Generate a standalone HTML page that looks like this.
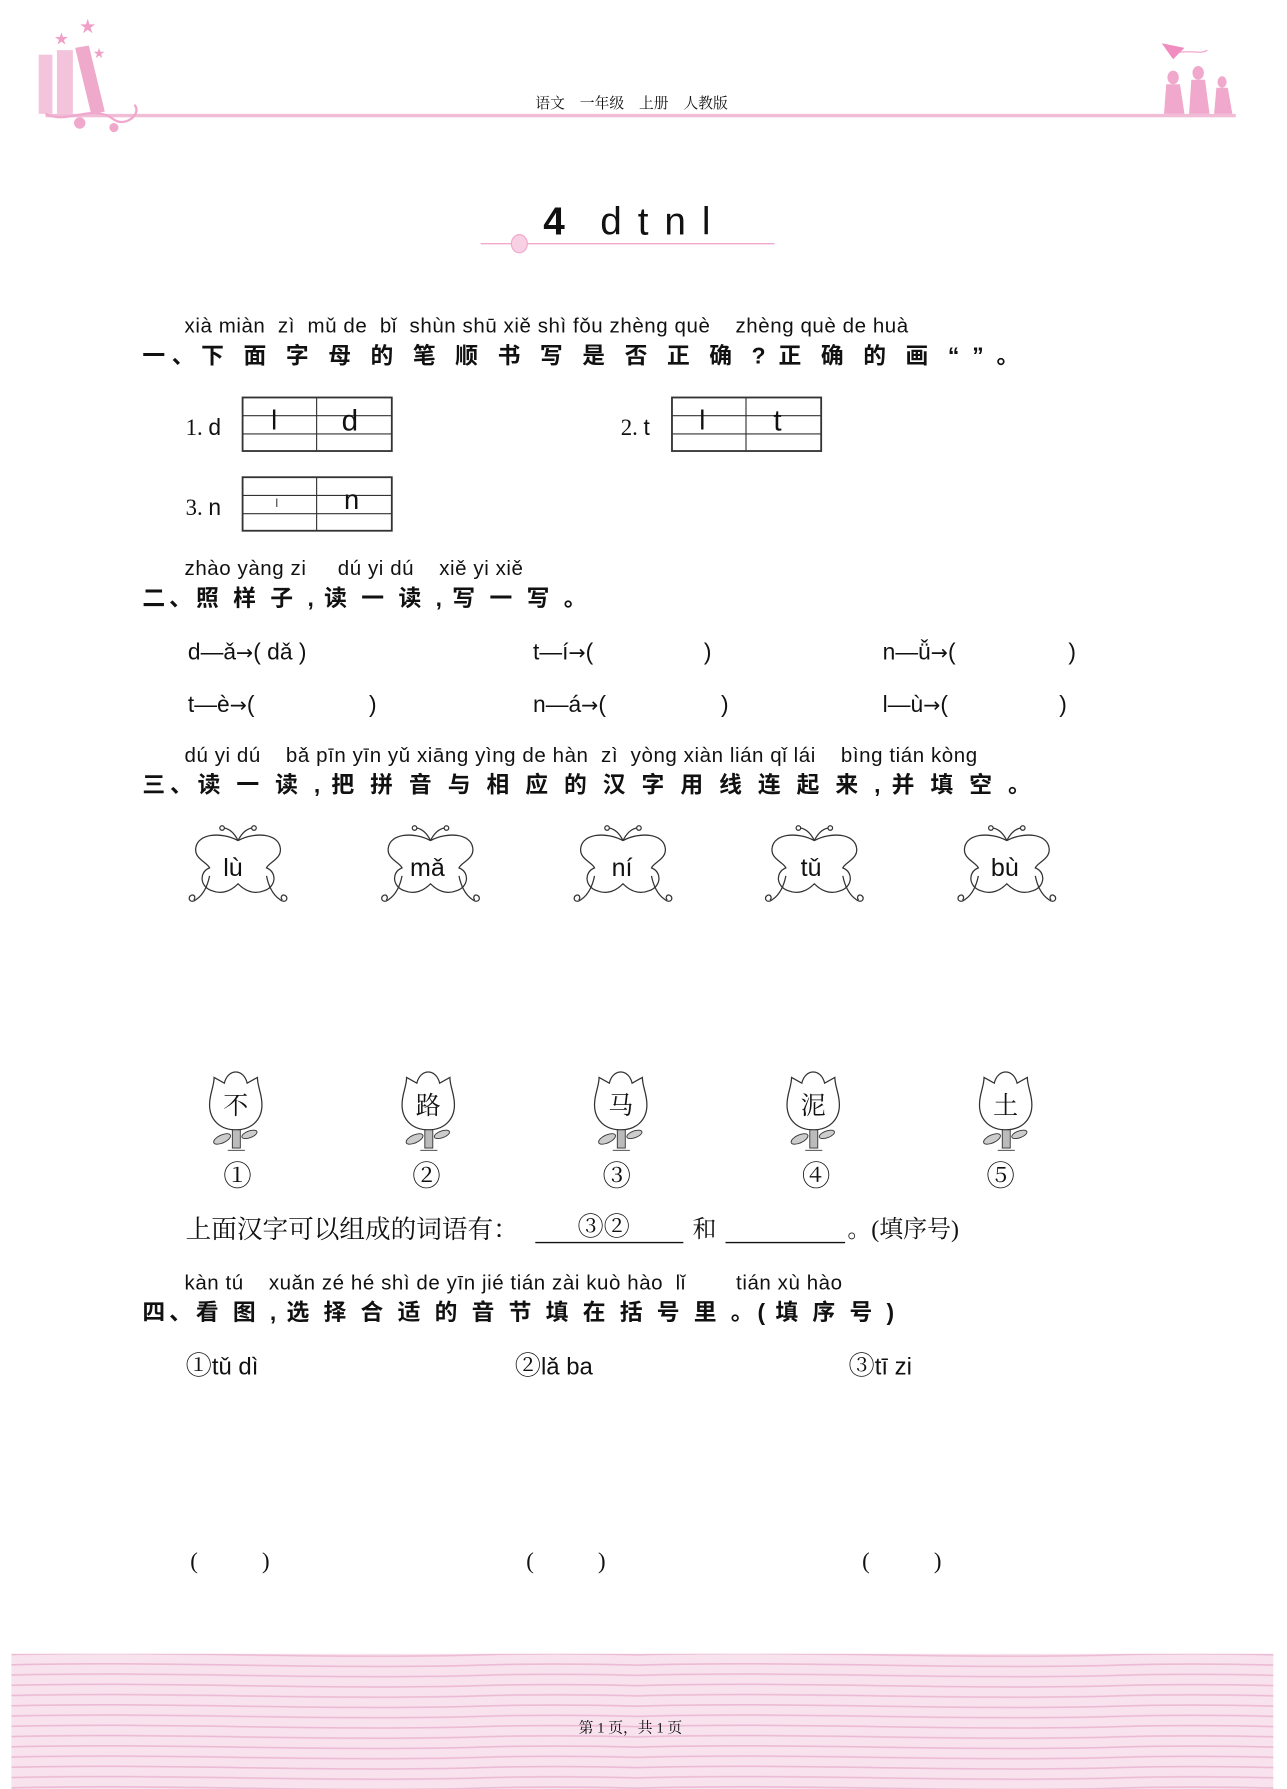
<!DOCTYPE html>
<html><head><meta charset="utf-8">
<style>
html,body{margin:0;padding:0;background:#fff;}
body{width:1287px;height:1789px;overflow:hidden;position:relative;}
#p{position:absolute;left:0;top:0;width:1130px;height:1571px;transform:scale(1.13894);transform-origin:0 0;font-family:"Liberation Sans","Noto Sans CJK SC",sans-serif;color:#111;}
.a{position:absolute;white-space:nowrap;line-height:1;}
.py{font-size:18px;letter-spacing:0.5px;}
.h{font-size:20px;font-weight:bold;text-align:justify;text-align-last:justify;}
.sf{font-family:"Liberation Serif","Noto Serif CJK SC",serif;}
.t{font-size:20px;}
.ar{font-family:"DejaVu Sans",sans-serif;font-size:18px;}
</style></head><body>
<div id="p">
<svg class="a" style="left:0;top:0" width="1130" height="1571">
  <defs>
    <g id="bf" fill="none" stroke="#333" stroke-width="1.1">
      <path d="M45,14 C30,6 10,8 8,20 C6,30 18,33 20,38 C10,42 12,55 22,58 C32,62 40,57 45,52 C50,57 58,62 68,58 C78,55 80,42 70,38 C72,33 84,30 82,20 C80,8 60,6 45,14 Z"/>
      <path d="M45,14 C42,8 38,4 33,3"/><circle cx="31" cy="3" r="2"/>
      <path d="M45,14 C48,8 52,4 57,3"/><circle cx="59" cy="3" r="2"/>
      <path d="M20,45 C18,55 14,62 8,66 C3,70 0,64 4,62 C7,61 8,65 6,66"/>
      <path d="M70,45 C72,55 76,62 82,66 C87,70 90,64 86,62 C83,61 82,65 84,66"/>
    </g>
    <g id="fl">
      <path d="M6,8 L15,13 C18,0 32,0 35,13 L44,8 C44,16 48,22 48,32 C48,46 38,54 25,54 C12,54 2,46 2,32 C2,22 6,16 6,8 Z" fill="#fff" stroke="#333" stroke-width="1.1"/>
      <rect x="22" y="54" width="7" height="16" fill="#bbb" stroke="#333" stroke-width="0.8"/>
      <ellipse cx="13" cy="62" rx="8" ry="3.5" transform="rotate(-25 13 62)" fill="#ccc" stroke="#333" stroke-width="0.8"/>
      <ellipse cx="37" cy="58" rx="7" ry="3" transform="rotate(-20 37 58)" fill="#ccc" stroke="#333" stroke-width="0.8"/>
      <path d="M18,72 L33,72" stroke="#333" stroke-width="0.8"/>
    </g>
  </defs>
  <rect x="40" y="100" width="1045" height="3" fill="#f0bcd6"/>
  <rect x="34" y="48" width="12" height="52" fill="#f3c4dc"/>
  <rect x="50" y="44" width="14" height="56" fill="#f0b4d2" opacity=".8"/>
  <path d="M66,42 L78,40 L92,98 L80,100 Z" fill="#efa9cb"/>
  <path d="M40,100 C60,110 80,90 100,105 C110,112 125,100 118,92" stroke="#f0a8cc" stroke-width="2" fill="none"/>
  <circle cx="70" cy="108" r="5" fill="#f0a8cc"/><circle cx="100" cy="112" r="4" fill="#f0a8cc"/>
  <text x="48" y="38" fill="#f0a0c8" font-size="12">★</text><text x="70" y="28" fill="#f0a0c8" font-size="14">★</text><text x="82" y="50" fill="#f0a0c8" font-size="10">★</text>
  <path d="M1020,38 L1040,42 L1030,52 Z" fill="#f08cc0"/><path d="M1035,46 C1045,44 1055,48 1060,44" stroke="#f0a0c8" fill="none"/>
  <g fill="#f0a8cc"><ellipse cx="1030" cy="68" rx="5" ry="6"/><path d="M1024,74 L1036,74 L1040,100 L1022,100 Z"/>
  <ellipse cx="1052" cy="64" rx="5" ry="6"/><path d="M1046,70 L1058,70 L1062,100 L1044,100 Z"/>
  <ellipse cx="1073" cy="72" rx="4" ry="5"/><path d="M1068,77 L1078,77 L1082,100 L1066,100 Z"/></g>
  <line x1="422" y1="214" x2="680" y2="214" stroke="#f0a8cc" stroke-width="1.2"/>
  <ellipse cx="456" cy="214" rx="7" ry="8" fill="#f8d0e4" stroke="#f0a8cc"/>
  <g fill="none" stroke="#333">
    <rect x="213" y="349" width="131" height="47" stroke-width="1.6"/><line x1="278" y1="349" x2="278" y2="396"/><line x1="213" y1="365" x2="344" y2="365"/><line x1="213" y1="381" x2="344" y2="381"/>
    <rect x="590" y="349" width="131" height="47" stroke-width="1.6"/><line x1="655" y1="349" x2="655" y2="396"/><line x1="590" y1="365" x2="721" y2="365"/><line x1="590" y1="381" x2="721" y2="381"/>
    <rect x="213" y="419" width="131" height="47" stroke-width="1.6"/><line x1="278" y1="419" x2="278" y2="466"/><line x1="213" y1="435" x2="344" y2="435"/><line x1="213" y1="451" x2="344" y2="451"/>
  </g>
  <use href="#bf" x="164" y="724"/><use href="#bf" x="333" y="724"/><use href="#bf" x="502" y="724"/><use href="#bf" x="670" y="724"/><use href="#bf" x="839" y="724"/>
  <use href="#fl" x="182" y="938"/><use href="#fl" x="351" y="938"/><use href="#fl" x="520" y="938"/><use href="#fl" x="689" y="938"/><use href="#fl" x="858" y="938"/>
  <line x1="470" y1="1091" x2="600" y2="1091" stroke="#111" stroke-width="1.2"/>
  <line x1="637" y1="1091" x2="742" y2="1091" stroke="#111" stroke-width="1.2"/>
  <defs><pattern id="wv" width="560" height="9" patternUnits="userSpaceOnUse"><rect width="560" height="9" fill="#f8e2ee"/><path d="M0,4 C140,0 280,8 420,4 C470,2.5 520,3 560,4" stroke="#ecbad4" stroke-width="1.4" fill="none"/></pattern></defs>
  <rect x="10" y="1452" width="1108" height="119" fill="url(#wv)"/>
</svg>

<div class="a sf" style="left:470px;top:84px;font-size:13px;">语文　一年级　上册　人教版</div>
<div class="a" style="left:477px;top:178px;font-size:34px;font-weight:bold;">4</div>
<div class="a" style="left:527px;top:178px;font-size:34px;letter-spacing:14px;">dtnl</div>

<div class="a py" style="left:162px;top:277px;">xià miàn&nbsp; zì&nbsp; mǔ de&nbsp; bǐ&nbsp; shùn shū xiě shì fǒu zhèng què&nbsp;&nbsp;&nbsp; zhèng què de huà</div>
<div class="a h" style="left:125px;top:303px;width:770px;">一、下 面 字 母 的 笔 顺 书 写 是 否 正 确 ? 正 确 的 画 “ ” 。</div>

<div class="a sf t" style="left:163px;top:366px;">1. <span style="font-family:'Liberation Sans'">d</span></div>
<div class="a" style="left:238px;top:358px;font-size:24px;">l</div>
<div class="a" style="left:300px;top:356px;font-size:26px;">d</div>
<div class="a sf t" style="left:545px;top:366px;">2. <span style="font-family:'Liberation Sans'">t</span></div>
<div class="a" style="left:614px;top:358px;font-size:24px;">l</div>
<div class="a" style="left:679px;top:356px;font-size:26px;">t</div>
<div class="a sf t" style="left:163px;top:436px;">3. <span style="font-family:'Liberation Sans'">n</span></div>
<div class="a" style="left:241px;top:433px;font-size:14px;color:#666;">ı</div>
<div class="a" style="left:302px;top:428px;font-size:24px;">n</div>

<div class="a py" style="left:162px;top:490px;">zhào yàng zi&nbsp;&nbsp;&nbsp;&nbsp; dú yi dú&nbsp;&nbsp;&nbsp; xiě yi xiě</div>
<div class="a h" style="left:125px;top:516px;width:390px;">二、照 样 子 , 读 一 读 , 写 一 写 。</div>

<div class="a t" style="left:165px;top:563px;">d—ǎ<span class="ar">→</span>( dǎ )</div>
<div class="a t" style="left:468px;top:563px;">t—í<span class="ar">→</span>(</div><div class="a t" style="left:618px;top:563px;">)</div>
<div class="a t" style="left:775px;top:563px;">n—ǚ<span class="ar">→</span>(</div><div class="a t" style="left:938px;top:563px;">)</div>
<div class="a t" style="left:165px;top:609px;">t—è<span class="ar">→</span>(</div><div class="a t" style="left:324px;top:609px;">)</div>
<div class="a t" style="left:468px;top:609px;">n—á<span class="ar">→</span>(</div><div class="a t" style="left:633px;top:609px;">)</div>
<div class="a t" style="left:775px;top:609px;">l—ù<span class="ar">→</span>(</div><div class="a t" style="left:930px;top:609px;">)</div>

<div class="a py" style="left:162px;top:654px;">dú yi dú&nbsp;&nbsp;&nbsp; bǎ pīn yīn yǔ xiāng yìng de hàn&nbsp; zì&nbsp; yòng xiàn lián qǐ lái&nbsp;&nbsp;&nbsp; bìng tián kòng</div>
<div class="a h" style="left:125px;top:680px;width:780px;">三、读 一 读 , 把 拼 音 与 相 应 的 汉 字 用 线 连 起 来 , 并 填 空 。</div>

<div class="a" style="left:196px;top:751px;font-size:22px;">lù</div>
<div class="a" style="left:360px;top:751px;font-size:22px;">mǎ</div>
<div class="a" style="left:537px;top:751px;font-size:22px;">ní</div>
<div class="a" style="left:703px;top:751px;font-size:22px;">tǔ</div>
<div class="a" style="left:870px;top:751px;font-size:22px;">bù</div>

<div class="a sf" style="left:196px;top:960px;font-size:22px;">不</div>
<div class="a sf" style="left:365px;top:960px;font-size:22px;">路</div>
<div class="a sf" style="left:534px;top:960px;font-size:22px;">马</div>
<div class="a sf" style="left:703px;top:960px;font-size:22px;">泥</div>
<div class="a sf" style="left:872px;top:960px;font-size:22px;">土</div>

<div class="a sf" style="left:196px;top:1021px;font-size:25px;">①</div>
<div class="a sf" style="left:362px;top:1021px;font-size:25px;">②</div>
<div class="a sf" style="left:529px;top:1021px;font-size:25px;">③</div>
<div class="a sf" style="left:704px;top:1021px;font-size:25px;">④</div>
<div class="a sf" style="left:866px;top:1021px;font-size:25px;">⑤</div>

<div class="a sf" style="left:163px;top:1069px;font-size:22.5px;">上面汉字可以组成的词语有：</div>
<div class="a sf" style="left:507px;top:1066px;font-size:23px;">③②</div>
<div class="a sf" style="left:608px;top:1069px;font-size:21px;">和</div>
<div class="a sf" style="left:744px;top:1069px;font-size:21px;">。(填序号)</div>

<div class="a py" style="left:162px;top:1117px;">kàn tú&nbsp;&nbsp;&nbsp; xuǎn zé hé shì de yīn jié tián zài kuò hào&nbsp; lǐ&nbsp;&nbsp;&nbsp;&nbsp;&nbsp;&nbsp;&nbsp; tián xù hào</div>
<div class="a h" style="left:125px;top:1143px;width:660px;">四、看 图 , 选 择 合 适 的 音 节 填 在 括 号 里 。( 填 序 号 )</div>

<div class="a" style="left:163px;top:1188px;font-size:21px;"><span class="sf" style="font-size:23px">①</span>tǔ dì</div>
<div class="a" style="left:452px;top:1188px;font-size:21px;"><span class="sf" style="font-size:23px">②</span>lǎ ba</div>
<div class="a" style="left:745px;top:1188px;font-size:21px;"><span class="sf" style="font-size:23px">③</span>tī zi</div>

<div class="a sf t" style="left:167px;top:1361px;">(</div><div class="a sf t" style="left:230px;top:1361px;">)</div>
<div class="a sf t" style="left:462px;top:1361px;">(</div><div class="a sf t" style="left:525px;top:1361px;">)</div>
<div class="a sf t" style="left:757px;top:1361px;">(</div><div class="a sf t" style="left:820px;top:1361px;">)</div>

<div class="a sf" style="left:508px;top:1510px;font-size:13px;">第 1 页，共 1 页</div>
</div>
</body></html>
